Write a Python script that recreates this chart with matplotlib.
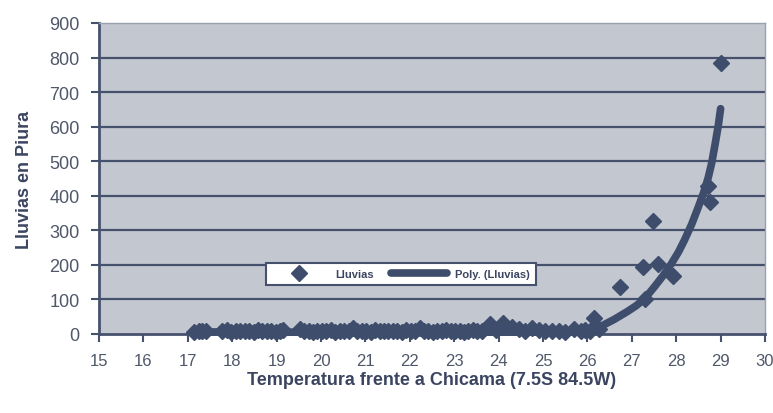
import numpy as np
import matplotlib
matplotlib.use("Agg")
from matplotlib import pyplot as plt

# temperatura frente a Chicama vs lluvias en Piura
temp = [17.15, 17.25, 17.32, 17.4, 17.78, 17.88, 17.98, 18.08, 18.18, 18.28,
        18.38, 18.48, 18.58, 18.68, 18.78, 18.88, 18.98, 19.08, 19.15, 19.52,
        19.62, 19.72, 19.82, 19.92, 20.02, 20.12, 20.22, 20.32, 20.42, 20.52,
        20.62, 20.72, 20.82, 20.92, 21.02, 21.12, 21.22, 21.32, 21.42, 21.52,
        21.62, 21.72, 21.82, 21.92, 22.02, 22.12, 22.22, 22.32, 22.42, 22.52,
        22.62, 22.72, 22.82, 22.92, 23.02, 23.12, 23.22, 23.32, 23.42, 23.52,
        23.62, 23.8, 23.95, 24.1, 24.3, 24.45, 24.6, 24.75, 24.9, 25.05,
        25.2, 25.35, 25.5, 25.7, 25.85, 25.95, 26.05, 26.15, 26.25,
        26.74, 27.26, 27.3, 27.48, 27.6, 27.93, 28.72, 28.75, 29.02]
lluvias = [7, 10, 8, 9, 8, 11, 7, 9, 10, 8,
           9, 7, 11, 8, 9, 10, 7, 8, 13, 14,
           8, 9, 7, 10, 8, 9, 11, 7, 8, 10,
           9, 16, 8, 10, 9, 7, 11, 8, 9, 10,
           8, 9, 7, 11, 10, 9, 18, 8, 9, 7,
           10, 8, 11, 9, 8, 10, 7, 9, 11, 8,
           10, 28, 12, 32, 20, 14, 10, 18, 12, 9,
           8, 10, 7, 15, 9, 12, 10, 45, 14,
           136, 194, 101, 328, 203, 168, 429, 383, 783]

# linea de tendencia (Poly.)
curva_x = [17.15, 20.0, 23.0, 25.0, 25.7, 26.0, 26.3, 26.6, 26.9, 27.1,
           27.28, 27.5, 27.7, 27.89, 28.05, 28.18, 28.35, 28.5, 28.62, 28.72,
           28.8, 28.88, 28.95, 29.0]
curva_y = [6, 5, 5, 6, 7, 10, 22, 42, 65, 82,
           101, 135, 168, 203, 237, 270, 318, 368, 410, 452,
           495, 552, 605, 652]

xticks = list(range(15, 31))
yticks = list(range(0, 1000, 100))

azul = '#3e4d6c'
texto = '#4f5769'

fig = plt.figure(figsize=(7.73, 4.14), dpi=100)
ax = fig.add_axes([99/773, 79/414, 666/773, 311/414])
ax.set_facecolor('#c3c7d0')

for y in yticks[1:-1]:
    ax.axhline(y, color='#46526d', lw=1.6, zorder=1)

ax.plot(curva_x, curva_y, color=azul, lw=5.5, solid_capstyle='round',
        solid_joinstyle='round', zorder=3, label='Poly. (Lluvias)', clip_on=False)
ax.plot(temp, lluvias, 'D', color=azul, markersize=8, ls='none', zorder=4,
        label='Lluvias', clip_on=False)

ax.set_xlim(15, 30)
ax.set_ylim(0, 900)
ax.set_xticks(xticks)
ax.set_yticks(yticks)
ax.tick_params(direction='out', length=6, width=1.5, color='#46526d',
               labelsize=13, labelcolor=texto, pad=8)
ax.tick_params(axis='x', labelsize=12)
for s in ['left', 'bottom']:
    ax.spines[s].set_color('#46526d')
    ax.spines[s].set_linewidth(2)
for s in ['top', 'right']:
    ax.spines[s].set_color('#9aa0ae')
    ax.spines[s].set_linewidth(1)

ax.set_xlabel('Temperatura frente a Chicama (7.5S 84.5W)', fontsize=13,
              fontweight='bold', color='#3b4560', family='Liberation Sans', labelpad=2)
ax.set_ylabel('Lluvias en Piura', fontsize=13, fontweight='bold',
              color='#3b4560', family='Liberation Sans', labelpad=12)
for lab in ax.get_xticklabels() + ax.get_yticklabels():
    lab.set_family('Liberation Sans')

handles, labels = ax.get_legend_handles_labels()
leg = ax.legend(handles[::-1], labels[::-1], ncol=2, loc='center',
                bbox_to_anchor=(0.453, 0.193), fancybox=False, framealpha=1,
                edgecolor='#46526d', prop={'size': 8, 'weight': 'bold', 'family': 'Liberation Sans'},
                handlelength=5, columnspacing=1.5, borderpad=0.5)
leg.get_frame().set_linewidth(1.5)
for t in leg.get_texts():
    t.set_color('#3b4560')

fig.savefig('out.png', dpi=100)
